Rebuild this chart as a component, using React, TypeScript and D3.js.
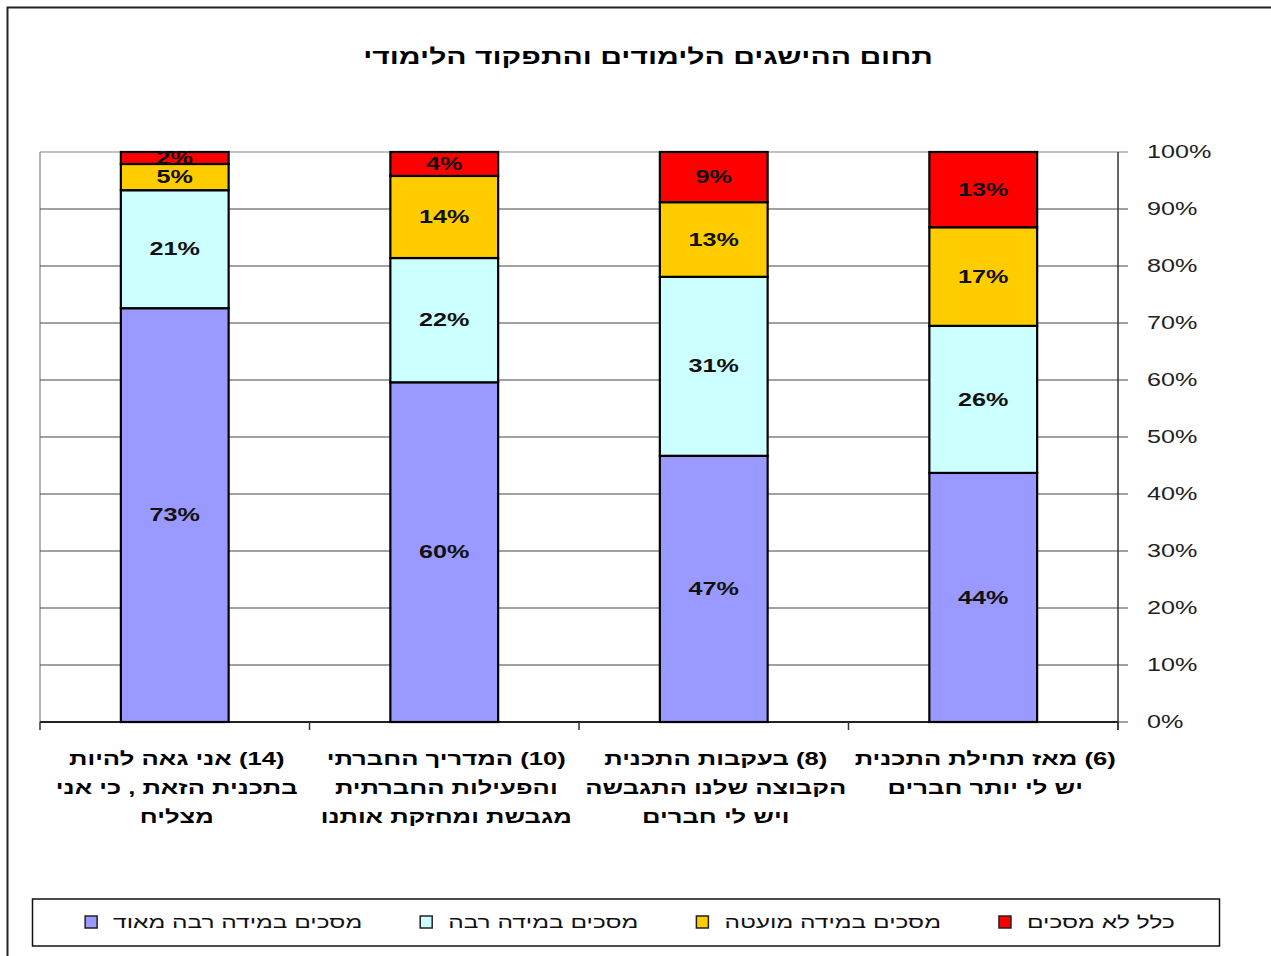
import React, { useEffect, useRef } from "react";
import * as d3 from "d3";

const title = "תחום ההישגים הלימודים והתפקוד הלימודי";

const categories = [
  ["(6) מאז תחילת התכנית", "יש לי יותר חברים"],
  ["(8) בעקבות התכנית", "הקבוצה שלנו התגבשה", "ויש לי חברים"],
  ["(10) המדריך החברתי", "והפעילות החברתית", "מגבשת ומחזקת אותנו"],
  ["(14) אני גאה להיות", "בתכנית הזאת , כי אני", "מצליח"],
];

const seriesNames = ["מסכים במידה רבה מאוד", "מסכים במידה רבה", "מסכים במידה מועטה", "כלל לא מסכים"];
const seriesColors = ["#9999FF", "#CCFFFF", "#FFCC00", "#FF0000"];

const veryMuch = [43.7, 46.7, 59.6, 72.6];
const much = [25.8, 31.4, 21.8, 20.7];
const little = [17.3, 13.1, 14.4, 4.6];
const notAtAll = [13.2, 8.8, 4.2, 2.1];

const yTicks = [0, 10, 20, 30, 40, 50, 60, 70, 80, 90, 100];

const FONT = "'Liberation Sans', Arial, 'DejaVu Sans', sans-serif";
const SX = 1.4;

export default function App() {
  const ref = useRef<SVGSVGElement>(null);

  useEffect(() => {
    const svg = d3.select(ref.current);
    svg.selectAll("*").remove();

    const left = 40, right = 1118, top = 152, bottom = 722;
    const keys = categories.map((c) => c[0]);
    const x = d3.scaleBand<string>().domain(keys).range([right, left]).paddingInner(0.6).paddingOuter(0.3);
    const y = d3.scaleLinear().domain([0, 100]).range([bottom, top]);

    const stretchedText = (g: any, tx: number, ty: number, txt: string, opts: any) => {
      const grp = g.append("g").attr("transform", `translate(${tx},${ty}) scale(${SX},1)`);
      const t = grp
        .append("text")
        .attr("font-family", FONT)
        .attr("font-size", opts.size)
        .attr("font-weight", opts.weight || "normal")
        .attr("fill", opts.fill || "#000")
        .attr("text-anchor", opts.anchor || "middle")
        .attr("dominant-baseline", "central")
        .text(txt);
      if (opts.rtl) t.attr("direction", "rtl").style("unicode-bidi", "embed");
      return t;
    };

    // outer border
    svg.append("rect").attr("x", 7.5).attr("y", 7.5).attr("width", 1300).attr("height", 1000)
      .attr("fill", "#fff").attr("stroke", "#222").attr("stroke-width", 2);

    // title
    stretchedText(svg, 648, 57, title, { size: 21.5, weight: "bold" });

    // plot border left (light)
    svg.append("line").attr("x1", left).attr("x2", left).attr("y1", top).attr("y2", bottom)
      .attr("stroke", "#999").attr("stroke-width", 1.5);

    // gridlines
    svg.append("g").selectAll("line").data(yTicks).join("line")
      .attr("x1", left).attr("x2", right + 10)
      .attr("y1", (d) => y(d)).attr("y2", (d) => y(d))
      .attr("stroke", (d) => (d === 100 ? "#888" : "#444")).attr("stroke-width", 1.2);

    // right axis
    svg.append("line").attr("x1", right).attr("x2", right).attr("y1", top).attr("y2", bottom + 8)
      .attr("stroke", "#333").attr("stroke-width", 1.5);
    const yl = svg.append("g");
    yTicks.forEach((t) => {
      stretchedText(yl, 1147, y(t), `${t}%`, { size: 18, fill: "#222", anchor: "start" });
    });

    // x axis
    svg.append("line").attr("x1", left).attr("x2", right).attr("y1", bottom).attr("y2", bottom)
      .attr("stroke", "#222").attr("stroke-width", 2);
    const step = x.step();
    const bounds = d3.range(keys.length + 1).map((i) => left + i * step);
    svg.append("g").selectAll("line").data(bounds).join("line")
      .attr("x1", (d) => d).attr("x2", (d) => d).attr("y1", bottom).attr("y2", bottom + 8)
      .attr("stroke", "#333").attr("stroke-width", 1.5);

    // stacks
    const rows = keys.map((k, i) => ({ key: k, s0: veryMuch[i], s1: much[i], s2: little[i], s3: notAtAll[i] }));
    const stack = d3.stack<any>().keys(["s0", "s1", "s2", "s3"]);
    const stacked = stack(rows);

    stacked.forEach((layer, si) => {
      const g = svg.append("g");
      layer.forEach((seg: any) => {
        const bx = x(seg.data.key)!;
        const y0 = y(Math.min(seg[1], 100));
        const y1 = y(seg[0]);
        g.append("rect").attr("x", bx).attr("y", y0).attr("width", x.bandwidth()).attr("height", y1 - y0)
          .attr("fill", seriesColors[si]).attr("stroke", "#000").attr("stroke-width", 2.2);
      });
    });
    stacked.forEach((layer) => {
      const g = svg.append("g");
      layer.forEach((seg: any) => {
        const cx = x(seg.data.key)! + x.bandwidth() / 2;
        const cy = (y(seg[0]) + y(Math.min(seg[1], 100))) / 2;
        stretchedText(g, cx, cy, `${Math.round(seg[1] - seg[0])}%`, { size: 18, weight: "bold", fill: "#111" });
      });
    });

    // category labels
    const cl = svg.append("g");
    categories.forEach((lines) => {
      const cx = x(lines[0])! + x.bandwidth() / 2;
      lines.forEach((ln, li) => {
        stretchedText(cl, cx + 2, 759 + li * 29, ln, { size: 18.3, weight: "bold", rtl: true });
      });
    });

    // legend
    svg.append("rect").attr("x", 32.5).attr("y", 899).attr("width", 1187).attr("height", 47)
      .attr("fill", "#fff").attr("stroke", "#111").attr("stroke-width", 1.5);
    const lg = svg.append("g");
    const order = [3, 2, 1, 0];
    const items = order.map((si) => {
      const t = stretchedText(lg, 0, 922, seriesNames[si], { size: 17.5, fill: "#111", anchor: "end" });
      const w = (t.node() as SVGTextElement).getComputedTextLength() * SX;
      return { si, t, w };
    });
    const markerGap = 22, itemGap = 58, mk = 12;
    const total = items.reduce((a, it) => a + it.w + markerGap + mk / 2, 0) + itemGap * (items.length - 1);
    let cursor = 630 + total / 2;
    items.forEach((it) => {
      d3.select((it.t.node() as SVGTextElement).parentNode as any)
        .attr("transform", `translate(${cursor},922) scale(${SX},1)`);
      const mx = cursor - it.w - markerGap;
      lg.append("rect").attr("x", mx - mk / 2).attr("y", 922 - mk / 2).attr("width", mk).attr("height", mk)
        .attr("fill", seriesColors[it.si]).attr("stroke", "#222").attr("stroke-width", 1.5);
      cursor = mx - mk / 2 - itemGap;
    });
  }, []);

  return (
    <svg
      ref={ref}
      width={1271}
      height={956}
      style={{ position: "absolute", left: 0, top: 0, background: "#fff" }}
    />
  );
}
